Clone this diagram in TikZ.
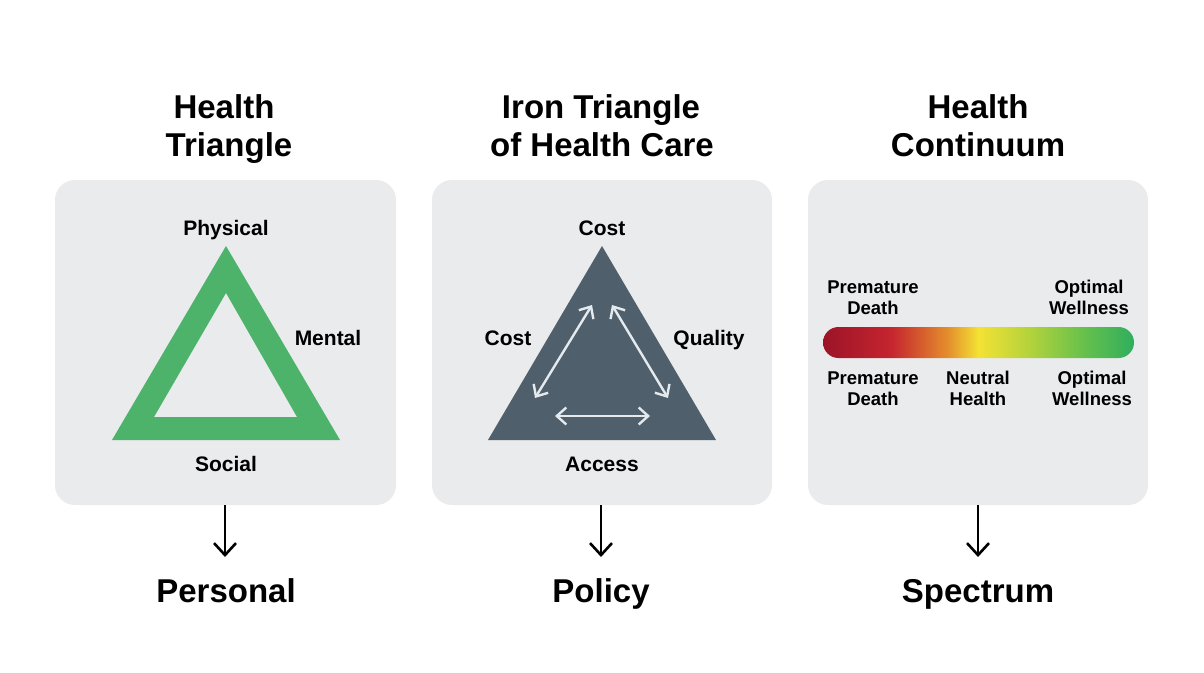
\documentclass[tikz,border=0pt]{standalone}
\usepackage{fontspec}
\setmainfont{Liberation Sans}
\usetikzlibrary{arrows.meta}
\definecolor{panelgray}{HTML}{E9EBED}
\definecolor{trigreen}{HTML}{4DB36B}
\definecolor{slate}{HTML}{4F5F6B}
\definecolor{arrlight}{HTML}{E4EAEE}
\definecolor{cA}{HTML}{9C1427}
\definecolor{cB}{HTML}{C5252F}
\definecolor{cC}{HTML}{E48E2C}
\definecolor{cD}{HTML}{F3E234}
\definecolor{cE}{HTML}{B9D43B}
\definecolor{cF}{HTML}{62BF4D}
\definecolor{cG}{HTML}{2FAE5E}
\pgfdeclarehorizontalshading{contbar}{100bp}{color(0bp)=(cA); color(25bp)=(cA); color(36bp)=(cB); color(45bp)=(cC); color(50bp)=(cD); color(57.5bp)=(cE); color(67.5bp)=(cF); color(75bp)=(cG); color(100bp)=(cG)}
\tikzset{
  panel/.style={fill=panelgray, draw=none, rounded corners=20pt},
  title/.style={font=\fontsize{33}{38}\selectfont\bfseries, text=black, anchor=base, inner sep=0pt},
  lbl/.style={font=\fontsize{21}{24}\selectfont\bfseries, text=black, anchor=base, inner sep=0pt},
  small/.style={font=\fontsize{18.5}{21}\selectfont\bfseries, text=black, anchor=base, inner sep=0pt},
  bottom/.style={font=\fontsize{33}{38}\selectfont\bfseries, text=black, anchor=base, inner sep=0pt},
  downarr/.style={draw=black, line width=2.6pt, -{Straight Barb[length=12pt, width=22pt, line width=2.6pt]}},
  inarr/.style={draw=arrlight, line width=2.4pt, {Straight Barb[length=9.5pt, width=17pt, line width=2.4pt]}-{Straight Barb[length=9.5pt, width=17pt, line width=2.4pt]}}
}
\begin{document}
\begin{tikzpicture}[x=1pt, y=-1pt]
\useasboundingbox (0,0) rectangle (1204,672);
\fill[white] (0,0) rectangle (1204,672);
% panels
\path[panel] (55,180) rectangle (396,505);
\path[panel] (432,180) rectangle (772,505);
\path[panel] (808,180) rectangle (1148,505);
\coordinate (p1b) at (225,505);
\coordinate (p2b) at (601,505);
\coordinate (p3b) at (978,505);
% titles
\node[title] (t1a) at (224,118) {Health};
\node[title] (t1b) at (229,156) {Triangle};
\node[title] (t2a) at (601,118) {Iron Triangle};
\node[title] (t2b) at (602,156) {of Health Care};
\node[title] (t3a) at (978,118) {Health};
\node[title] (t3b) at (978,156) {Continuum};
% panel 1: green triangle
\fill[trigreen, even odd rule] (226,246) -- (340,440) -- (112,440) -- cycle
  (226,293) -- (297,417) -- (154,417) -- cycle;
\node[lbl] (phys) at (226,235) {Physical};
\node[lbl] (ment) at (328,345) {Mental};
\node[lbl] (soc) at (226,471) {Social};
% panel 2: iron triangle
\fill[slate] (602,246) -- (716,440) -- (488,440) -- cycle;
\coordinate (a1) at (592,305);
\coordinate (a2) at (535,398);
\coordinate (b1) at (612,305);
\coordinate (b2) at (668,398);
\coordinate (c1) at (555,416);
\coordinate (c2) at (650,416);
\draw[inarr] (a1) -- (a2);
\draw[inarr] (b1) -- (b2);
\draw[inarr] (c1) -- (c2);
\node[lbl] (cost1) at (602,235) {Cost};
\node[lbl] (cost2) at (508,345) {Cost};
\node[lbl] (qual) at (709,345) {Quality};
\node[lbl] (acc) at (602,471) {Access};
% panel 3: continuum
\shade[shading=contbar, rounded corners=15.5pt] (823,327) rectangle (1134,358);
\node[small] (pd1a) at (873,293) {Premature};
\node[small] (pd1b) at (873,314) {Death};
\node[small] (ow1a) at (1089,293) {Optimal};
\node[small] (ow1b) at (1089,314) {Wellness};
\node[small] (pd2a) at (873,384) {Premature};
\node[small] (pd2b) at (873,405) {Death};
\node[small] (nha) at (978,384) {Neutral};
\node[small] (nhb) at (978,405) {Health};
\node[small] (ow2a) at (1092,384) {Optimal};
\node[small] (ow2b) at (1092,405) {Wellness};
% bottom labels
\node[bottom] (b1l) at (226,602) {Personal};
\node[bottom] (b2l) at (601,602) {Policy};
\node[bottom] (b3l) at (978,602) {Spectrum};
\coordinate (e1) at (225,557);
\coordinate (e2) at (601,557);
\coordinate (e3) at (978,557);
\draw[downarr] (p1b) -- (e1);
\draw[downarr] (p2b) -- (e2);
\draw[downarr] (p3b) -- (e3);
\end{tikzpicture}
\end{document}
